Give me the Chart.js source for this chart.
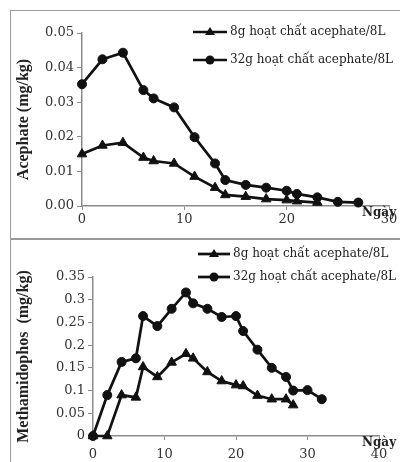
<!DOCTYPE html>
<html>
<head>
<meta charset="utf-8">
<script src="https://cdn.jsdelivr.net/npm/chart.js@4.4.1/dist/chart.umd.min.js"></script>
<style>
  body { margin: 0; background: #fff; width: 400px; height: 462px; overflow: hidden; position: relative; }
  canvas { position: absolute; }
  .frame { position: absolute; border: 1.5px solid #9a9a9a; box-sizing: border-box; }
</style>
</head>
<body>
<div class="frame" style="left:10px; top:10px; width:400px; height:230px;"></div>
<div class="frame" style="left:10px; top:238px; width:400px; height:240px;"></div>
<canvas id="acephateChart" width="390" height="229" style="left:10px; top:10px;"></canvas>
<canvas id="methChart" width="390" height="223" style="left:10px; top:239px;"></canvas>
<script>
// Acephate residue (mg/kg) by day
const acDays8 = [0, 2, 4, 6, 7, 9, 11, 13, 14, 16, 18, 20, 21, 23];
const acVals8 = [0.015, 0.0175, 0.0183, 0.014, 0.013, 0.0123, 0.0085, 0.0053, 0.0032, 0.0027, 0.002, 0.0017, 0.0014, 0.001];
const acDays32 = [0, 2, 4, 6, 7, 9, 11, 13, 14, 16, 18, 20, 21, 23, 25, 27];
const acVals32 = [0.0352, 0.0424, 0.0443, 0.0335, 0.0311, 0.0285, 0.0199, 0.0123, 0.0075, 0.0061, 0.0053, 0.0044, 0.0035, 0.0025, 0.0012, 0.001];

// Methamidophos residue (mg/kg) by day
const meDays8 = [0, 2, 4, 6, 7, 9, 11, 13, 14, 16, 18, 20, 21, 23, 25, 27, 28];
const meVals8 = [0, 0, 0.09, 0.085, 0.152, 0.13, 0.162, 0.181, 0.171, 0.141, 0.121, 0.112, 0.11, 0.089, 0.081, 0.081, 0.068];
const meDays32 = [0, 2, 4, 6, 7, 9, 11, 13, 14, 16, 18, 20, 21, 23, 25, 27, 28, 30, 32];
const meVals32 = [0, 0.09, 0.163, 0.171, 0.264, 0.242, 0.28, 0.316, 0.292, 0.28, 0.262, 0.264, 0.231, 0.19, 0.15, 0.13, 0.1, 0.101, 0.081];

const seriesNames = ['8g hoạt chất acephate/8L', '32g hoạt chất acephate/8L'];
const xUnit = 'Ngày';

const tickFont = { family: 'DejaVu Serif', size: 13 };
const axisGray = '#8c8c8c';

function pts(xs, ys) {
  return xs.map((x, i) => ({ x: x, y: ys[i] }));
}

function series(label, data, style) {
  return {
    label: label,
    data: data,
    borderColor: '#111',
    backgroundColor: '#111',
    borderWidth: 2.7,
    tension: 0,
    pointStyle: style,
    pointRadius: style === 'triangle' ? 5.5 : 4.5,
    pointBorderWidth: 1,
    pointBorderColor: '#111',
    pointBackgroundColor: '#111',
    clip: false
  };
}

// legend (line + marker + text) and the day label
function overlay(legendPos, dayPos) {
  return {
    id: 'overlay',
    afterDraw(chart) {
      const ctx = chart.ctx;
      ctx.save();
      chart.data.datasets.forEach((ds, i) => {
        const y = legendPos.y[i];
        ctx.strokeStyle = '#111';
        ctx.lineWidth = 2.7;
        ctx.beginPath();
        ctx.moveTo(legendPos.x0, y);
        ctx.lineTo(legendPos.x1, y);
        ctx.stroke();
        const cx = (legendPos.x0 + legendPos.x1) / 2;
        ctx.fillStyle = '#111';
        ctx.beginPath();
        if (ds.pointStyle === 'triangle') {
          ctx.moveTo(cx, y - 5);
          ctx.lineTo(cx + 5, y + 3);
          ctx.lineTo(cx - 5, y + 3);
          ctx.closePath();
        } else {
          ctx.arc(cx, y, 4.5, 0, Math.PI * 2);
        }
        ctx.fill();
        ctx.fillStyle = '#222';
        ctx.font = '12px "DejaVu Serif"';
        ctx.textBaseline = 'middle';
        ctx.textAlign = 'left';
        ctx.fillText(ds.label, legendPos.x1 + 3, y);
      });
      ctx.font = 'bold 12px "DejaVu Serif"';
      ctx.fillStyle = '#222';
      ctx.textBaseline = 'alphabetic';
      ctx.fillText(xUnit, dayPos.x, chart.chartArea.bottom + 10);
      ctx.restore();
    }
  };
}

function makeChart(id, sets, opts) {
  return new Chart(document.getElementById(id), {
    type: 'line',
    data: { datasets: sets },
    options: {
      responsive: false,
      animation: false,
      devicePixelRatio: 1,
      layout: { padding: opts.padding },
      plugins: { legend: { display: false }, tooltip: { enabled: false } },
      scales: {
        x: {
          type: 'linear',
          min: 0,
          max: opts.xMax,
          afterFit: (s) => { s.height = opts.xHeight; },
          ticks: { stepSize: 10, font: tickFont, color: '#333', padding: opts.xPad, maxRotation: 0 },
          grid: { drawOnChartArea: false, drawTicks: true, tickLength: 4, color: axisGray },
          border: { color: axisGray, width: 1.5 }
        },
        y: {
          min: 0,
          max: opts.yMax,
          afterFit: (s) => { s.width = opts.yWidth; },
          ticks: { stepSize: opts.yStep, font: tickFont, color: '#333', padding: 3, callback: opts.fmt },
          grid: { drawOnChartArea: false, drawTicks: true, tickLength: 5, color: axisGray },
          border: { color: axisGray, width: 1.5 },
          title: {
            display: true,
            text: opts.yTitle,
            font: { family: 'Liberation Serif', size: 16, weight: 'bold' },
            color: '#222',
            padding: { top: 4, bottom: 0 }
          }
        }
      }
    },
    plugins: [overlay(opts.legend, opts.day)]
  });
}

makeChart('acephateChart', [
  series(seriesNames[0], pts(acDays8, acVals8), 'triangle'),
  series(seriesNames[1], pts(acDays32, acVals32), 'circle')
], {
  padding: { left: 0, top: 23, right: 11, bottom: 0 },
  xMax: 30, xHeight: 33, xPad: 2,
  yMax: 0.05, yStep: 0.01, yWidth: 72,
  fmt: (v) => v.toFixed(2),
  yTitle: 'Acephate (mg/kg)',
  legend: { x0: 183, x1: 217, y: [22, 50] },
  day: { x: 352 }
});

makeChart('methChart', [
  series(seriesNames[0], pts(meDays8, meVals8), 'triangle'),
  series(seriesNames[1], pts(meDays32, meVals32), 'circle')
], {
  padding: { left: 0, top: 38, right: 21, bottom: 0 },
  xMax: 40, xHeight: 26, xPad: 7,
  yMax: 0.35, yStep: 0.05, yWidth: 83,
  fmt: (v) => String(+v.toFixed(2)),
  yTitle: 'Methamidophos  (mg/kg)',
  legend: { x0: 188, x1: 220, y: [15, 38] },
  day: { x: 352 }
});
</script>
</body>
</html>
